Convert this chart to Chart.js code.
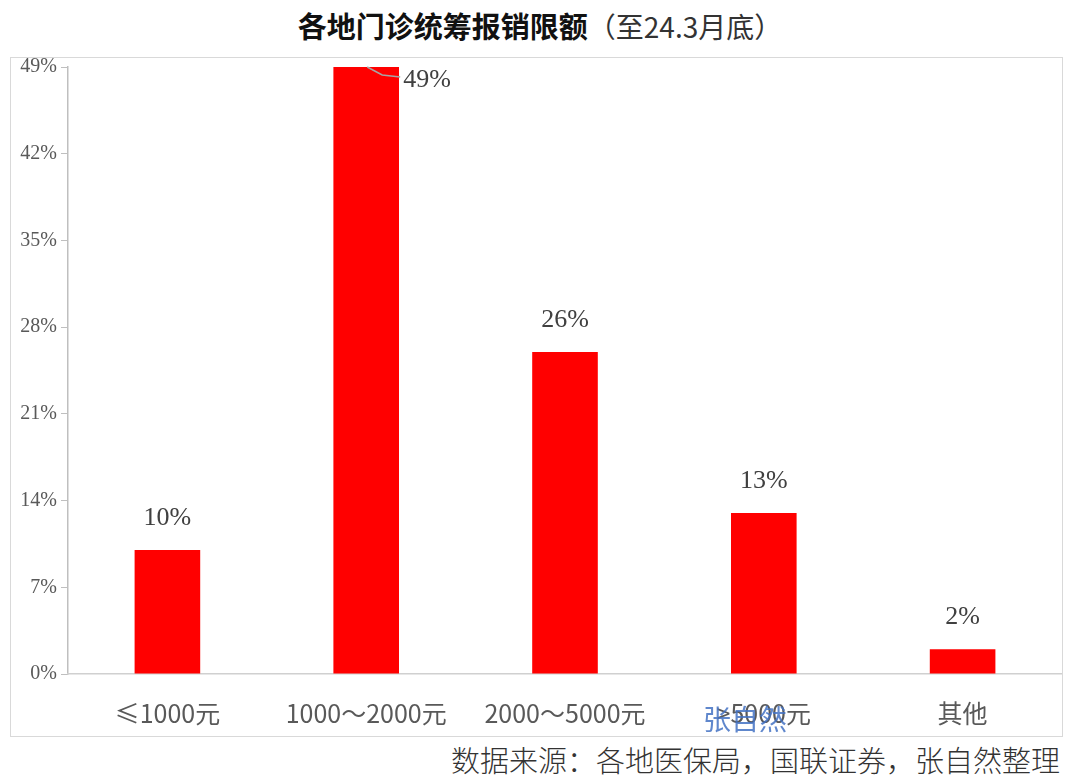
<!DOCTYPE html>
<html>
<head>
<meta charset="utf-8">
<script src="https://cdn.jsdelivr.net/npm/chart.js@4"></script>
<style>
  body { margin: 0; background: #fff; }
  #page { position: relative; width: 1080px; height: 780px; overflow: hidden; }
  #title { position: absolute; top: 4px; left: 0; width: 1080px; text-align: center; font-size: 29px; color: #111;
           font-family: "Noto Sans CJK SC", sans-serif; }
  #title b { font-weight: 700; }
  #title span { font-weight: 400; color: #333; font-size: 28px; }
  #frame { position: absolute; left: 10px; top: 57px; width: 1051px; height: 678px; border: 1px solid #d9d9d9; }
  #chart { position: absolute; left: 11px; top: 51px; }
  #mark { position: absolute; left: 703px; top: 698px; font-size: 28px; color: #4472c4; opacity: 0.85;
          font-family: "Noto Sans CJK SC", sans-serif; }
  #source { position: absolute; right: 20px; top: 738px; font-size: 29px; color: #333; font-weight: 300;
            font-family: "Noto Sans CJK SC", sans-serif; }
</style>
</head>
<body>
<div id="page">
  <div id="title"><b>各地门诊统筹报销限额</b><span>（至24.3月底）</span></div>
  <div id="frame"></div>
  <canvas id="chart" width="1051" height="684"></canvas>
  <div id="mark">张自然</div>
  <div id="source">数据来源：各地医保局，国联证券，张自然整理</div>
</div>
<script>
// 报销限额分布（至24.3月底）
const categories = ['≤1000元', '1000～2000元', '2000～5000元', '>5000元', '其他'];
const shares = [10, 49, 26, 13, 2];
const yTicks = [0, 7, 14, 21, 28, 35, 42, 49];

// 柱顶数字
const barLabels = {
    id: 'barLabels',
    afterDatasetsDraw(chart) {
        const ctx = chart.ctx;
        const meta = chart.getDatasetMeta(0);
        ctx.save();
        ctx.font = '26px "Liberation Serif", serif';
        ctx.fillStyle = '#404040';
        ctx.textBaseline = 'middle';
        meta.data.forEach((bar, i) => {
            const txt = shares[i] + '%';
            if (i === 1) {
                // 最高的柱子：标签放在右侧，带引线
                ctx.strokeStyle = '#a6a6a6';
                ctx.lineWidth = 1.5;
                ctx.beginPath();
                ctx.moveTo(bar.x + 1, bar.y);
                ctx.lineTo(bar.x + 16, bar.y + 8);
                ctx.lineTo(bar.x + 34, bar.y + 10);
                ctx.stroke();
                ctx.textAlign = 'left';
                ctx.fillText(txt, bar.x + 37, bar.y + 13);
            } else {
                ctx.textAlign = 'center';
                ctx.fillText(txt, bar.x, bar.y - 32);
            }
        });
        ctx.restore();
    }
};

new Chart(document.getElementById('chart'), {
    type: 'bar',
    data: {
        labels: categories,
        datasets: [{
            data: shares,
            backgroundColor: '#ff0000',
            barPercentage: 0.33,
            categoryPercentage: 1
        }]
    },
    options: {
        responsive: false,
        animation: false,
        layout: { padding: { top: 4, right: 0, left: 0, bottom: 0 } },
        plugins: { legend: { display: false }, tooltip: { enabled: false } },
        scales: {
            y: {
                min: 0,
                max: 49,
                afterBuildTicks: s => { s.ticks = yTicks.map(v => ({ value: v })); },
                afterFit: s => { s.width = 57; },
                grid: { drawOnChartArea: false, color: '#bfbfbf', tickLength: 7 },
                border: { color: '#bfbfbf', width: 1.5 },
                ticks: {
                    callback: v => v + '%',
                    color: '#595959',
                    padding: 4,
                    font: { family: '"Liberation Serif", serif', size: 20 }
                }
            },
            x: {
                afterFit: s => { s.height = 61; },
                grid: { display: false },
                border: { color: '#d0d0d0', width: 1.5 },
                ticks: {
                    color: '#595959',
                    padding: 16,
                    font: { family: '"Noto Sans CJK SC", sans-serif', size: 25 }
                }
            }
        }
    },
    plugins: [barLabels]
});
</script>
</body>
</html>
